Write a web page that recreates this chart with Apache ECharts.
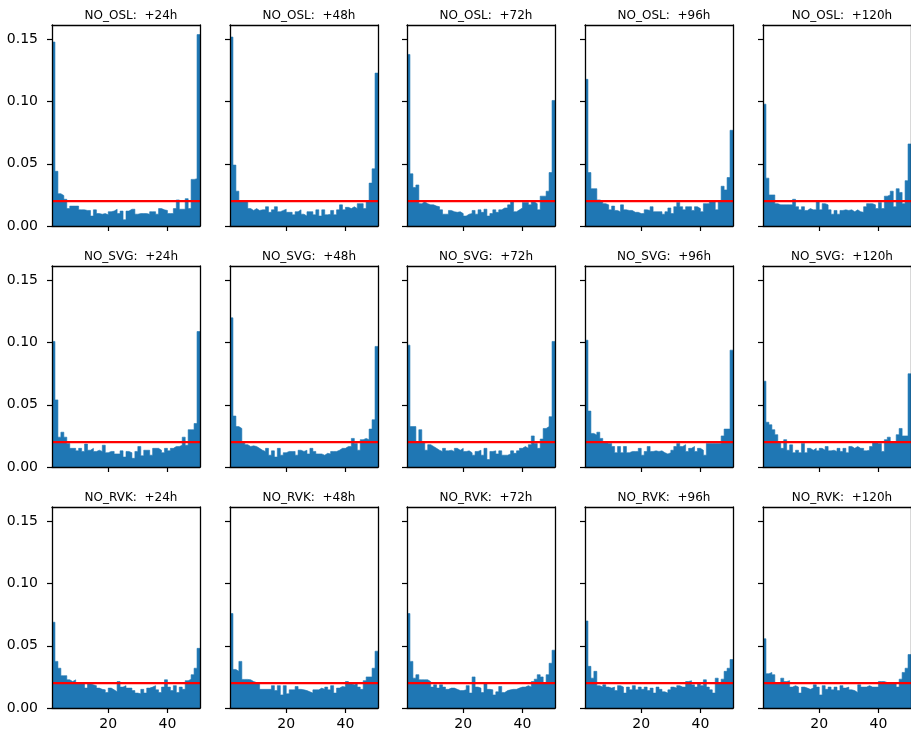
<!DOCTYPE html>
<html>
<head>
<meta charset="utf-8">
<script src="https://cdn.jsdelivr.net/npm/echarts@6/dist/echarts.min.js"></script>
<style>
  html, body { margin: 0; padding: 0; background: #fff; }
  #chart { width: 911px; height: 740px; }
</style>
</head>
<body>
<div id="chart"></div>
<script>
// rank histograms, 50 bins over ranks 1..51
const stations = ['NO_OSL', 'NO_SVG', 'NO_RVK']
const leadTimes = ['+24h', '+48h', '+72h', '+96h', '+120h']
const xTicks = [20, 40]
const yTicks = [0, 0.05, 0.10, 0.15]
const UNIFORM = 0.02

const osl24 = [0.148, 0.044, 0.026, 0.0245, 0.0215, 0.014, 0.016, 0.016, 0.016, 0.013,
  0.013, 0.0125, 0.0125, 0.008, 0.013, 0.010, 0.0095, 0.010, 0.009, 0.0115,
  0.012, 0.0135, 0.010, 0.012, 0.005, 0.012, 0.0135, 0.0135, 0.0095, 0.010,
  0.010, 0.010, 0.0095, 0.0115, 0.0115, 0.0095, 0.014, 0.013, 0.0125, 0.010,
  0.010, 0.014, 0.021, 0.0135, 0.0135, 0.022, 0.014, 0.0375, 0.038, 0.154]
const osl48 = [0.152, 0.049, 0.028, 0.020, 0.020, 0.0205, 0.014, 0.0125, 0.014, 0.0125,
  0.013, 0.013, 0.0155, 0.011, 0.013, 0.0155, 0.0115, 0.0125, 0.0135, 0.011,
  0.011, 0.009, 0.0115, 0.013, 0.0095, 0.008, 0.0115, 0.0115, 0.009, 0.013,
  0.008, 0.013, 0.009, 0.0095, 0.0125, 0.009, 0.013, 0.017, 0.013, 0.015,
  0.014, 0.0155, 0.014, 0.018, 0.018, 0.014, 0.0205, 0.0345, 0.046, 0.123]
const osl72 = [0.138, 0.042, 0.031, 0.033, 0.018, 0.0195, 0.018, 0.017, 0.017, 0.016,
  0.0155, 0.013, 0.0095, 0.0095, 0.0125, 0.0115, 0.011, 0.0115, 0.010, 0.008,
  0.0095, 0.010, 0.0125, 0.0095, 0.013, 0.011, 0.0135, 0.008, 0.010, 0.013,
  0.011, 0.013, 0.0145, 0.0145, 0.017, 0.020, 0.0115, 0.013, 0.0145, 0.019,
  0.019, 0.017, 0.0195, 0.018, 0.013, 0.024, 0.024, 0.028, 0.043, 0.101]
const osl96 = [0.118, 0.043, 0.030, 0.030, 0.021, 0.020, 0.018, 0.017, 0.013, 0.016,
  0.0125, 0.0115, 0.017, 0.013, 0.0125, 0.0125, 0.011, 0.011, 0.010, 0.010,
  0.013, 0.0125, 0.0155, 0.0115, 0.0115, 0.0115, 0.0095, 0.0115, 0.0145, 0.010,
  0.0155, 0.019, 0.0155, 0.013, 0.0155, 0.0155, 0.0125, 0.0155, 0.014, 0.0115,
  0.018, 0.018, 0.0205, 0.0205, 0.013, 0.0195, 0.032, 0.029, 0.039, 0.077]
const osl120 = [0.098, 0.0385, 0.025, 0.025, 0.018, 0.017, 0.017, 0.017, 0.017, 0.017,
  0.0215, 0.0155, 0.013, 0.0155, 0.0125, 0.014, 0.013, 0.013, 0.0195, 0.013,
  0.018, 0.017, 0.013, 0.0095, 0.0125, 0.0095, 0.0125, 0.013, 0.0125, 0.013,
  0.0115, 0.013, 0.0115, 0.011, 0.0155, 0.018, 0.018, 0.017, 0.014, 0.019,
  0.014, 0.024, 0.025, 0.028, 0.0155, 0.030, 0.027, 0.018, 0.0365, 0.066]

const svg24 = [0.101, 0.054, 0.024, 0.028, 0.024, 0.019, 0.015, 0.015, 0.013, 0.015,
  0.0125, 0.0185, 0.0135, 0.015, 0.0125, 0.0135, 0.0125, 0.0175, 0.0115, 0.0125,
  0.0125, 0.0105, 0.0105, 0.013, 0.008, 0.0125, 0.0115, 0.007, 0.0125, 0.0165,
  0.009, 0.0135, 0.0135, 0.0095, 0.015, 0.015, 0.0135, 0.0115, 0.015, 0.013,
  0.015, 0.0165, 0.0165, 0.0175, 0.024, 0.0175, 0.030, 0.030, 0.035, 0.109]
const svg48 = [0.120, 0.041, 0.0325, 0.031, 0.0205, 0.018, 0.0165, 0.017, 0.0165, 0.015,
  0.0135, 0.0125, 0.015, 0.0095, 0.013, 0.008, 0.015, 0.0095, 0.0115, 0.0125,
  0.0125, 0.0125, 0.0095, 0.0135, 0.0125, 0.0135, 0.0105, 0.015, 0.0125, 0.0105,
  0.0105, 0.0095, 0.011, 0.0105, 0.0125, 0.0125, 0.0135, 0.015, 0.015, 0.0165,
  0.0165, 0.023, 0.019, 0.0135, 0.022, 0.023, 0.022, 0.0305, 0.038, 0.097]
const svg72 = [0.098, 0.0325, 0.0325, 0.0205, 0.030, 0.0205, 0.0135, 0.018, 0.0165, 0.015,
  0.0135, 0.0125, 0.015, 0.013, 0.0135, 0.0125, 0.015, 0.0135, 0.015, 0.0125,
  0.013, 0.0115, 0.0095, 0.0125, 0.0135, 0.0095, 0.015, 0.006, 0.0125, 0.013,
  0.0105, 0.013, 0.0095, 0.0095, 0.0105, 0.013, 0.011, 0.013, 0.015, 0.0165,
  0.015, 0.018, 0.025, 0.019, 0.015, 0.0225, 0.031, 0.0325, 0.0405, 0.101]
const svg96 = [0.102, 0.045, 0.027, 0.0258, 0.028, 0.023, 0.0205, 0.019, 0.019, 0.0165,
  0.0115, 0.0165, 0.0115, 0.0165, 0.0115, 0.0125, 0.0125, 0.0125, 0.015, 0.0095,
  0.0125, 0.0165, 0.0125, 0.013, 0.0125, 0.013, 0.0115, 0.0105, 0.0115, 0.0135,
  0.0165, 0.019, 0.0165, 0.018, 0.0125, 0.015, 0.0165, 0.0125, 0.015, 0.0135,
  0.0095, 0.019, 0.019, 0.019, 0.019, 0.019, 0.025, 0.0305, 0.0305, 0.094]
const svg120 = [0.069, 0.036, 0.034, 0.030, 0.026, 0.0205, 0.015, 0.022, 0.0135, 0.0178,
  0.0115, 0.0135, 0.0115, 0.019, 0.0115, 0.015, 0.0135, 0.015, 0.013, 0.015,
  0.0135, 0.0165, 0.013, 0.0135, 0.0125, 0.015, 0.0125, 0.015, 0.0115, 0.0165,
  0.015, 0.0165, 0.015, 0.015, 0.013, 0.0135, 0.0165, 0.0205, 0.019, 0.019,
  0.0125, 0.022, 0.024, 0.0205, 0.0205, 0.026, 0.031, 0.025, 0.025, 0.075]

const rvk24 = [0.069, 0.0375, 0.032, 0.026, 0.026, 0.0227, 0.0213, 0.0227, 0.0205, 0.020,
  0.020, 0.016, 0.0195, 0.0187, 0.018, 0.016, 0.015, 0.0146, 0.0124, 0.016,
  0.0146, 0.013, 0.0213, 0.0168, 0.018, 0.016, 0.016, 0.014, 0.012, 0.0114,
  0.015, 0.012, 0.016, 0.0168, 0.018, 0.0146, 0.0124, 0.0168, 0.0227, 0.0168,
  0.014, 0.018, 0.0124, 0.0168, 0.015, 0.022, 0.0232, 0.0268, 0.032, 0.048]
const rvk48 = [0.076, 0.031, 0.0295, 0.0375, 0.023, 0.023, 0.0227, 0.0213, 0.0205, 0.020,
  0.015, 0.015, 0.015, 0.015, 0.018, 0.014, 0.018, 0.0105, 0.018, 0.0114,
  0.0146, 0.0146, 0.0173, 0.015, 0.0146, 0.014, 0.013, 0.012, 0.0146, 0.0146,
  0.016, 0.015, 0.0168, 0.0146, 0.018, 0.012, 0.016, 0.0173, 0.0168, 0.0213,
  0.0195, 0.0187, 0.020, 0.0168, 0.015, 0.022, 0.025, 0.025, 0.032, 0.0457]
const rvk72 = [0.076, 0.0375, 0.024, 0.0268, 0.0227, 0.0227, 0.0227, 0.0213, 0.0168, 0.0187,
  0.016, 0.0187, 0.0168, 0.015, 0.016, 0.016, 0.015, 0.014, 0.014, 0.0146,
  0.018, 0.012, 0.025, 0.0168, 0.016, 0.0124, 0.0195, 0.015, 0.0146, 0.0105,
  0.013, 0.0173, 0.0124, 0.014, 0.0146, 0.015, 0.015, 0.016, 0.0168, 0.0168,
  0.018, 0.0168, 0.0213, 0.0232, 0.0268, 0.025, 0.0195, 0.0268, 0.036, 0.0465]
const rvk96 = [0.070, 0.0335, 0.024, 0.0295, 0.018, 0.0168, 0.0187, 0.0168, 0.016, 0.0168,
  0.014, 0.018, 0.0168, 0.012, 0.0168, 0.0146, 0.018, 0.0146, 0.0168, 0.015,
  0.0168, 0.014, 0.016, 0.012, 0.0168, 0.015, 0.013, 0.012, 0.0146, 0.0168,
  0.016, 0.018, 0.0168, 0.0168, 0.0213, 0.022, 0.0187, 0.0168, 0.020, 0.018,
  0.0227, 0.0168, 0.0146, 0.012, 0.024, 0.020, 0.0232, 0.0295, 0.032, 0.039]
const rvk120 = [0.0557, 0.0276, 0.0286, 0.0268, 0.0205, 0.0205, 0.024, 0.0213, 0.022, 0.0168,
  0.018, 0.0168, 0.012, 0.0168, 0.016, 0.015, 0.016, 0.0187, 0.0168, 0.0105,
  0.018, 0.015, 0.0168, 0.0146, 0.0168, 0.014, 0.018, 0.016, 0.0168, 0.0146,
  0.014, 0.0124, 0.0187, 0.0168, 0.0168, 0.018, 0.0168, 0.0168, 0.0168, 0.0213,
  0.0213, 0.0205, 0.0205, 0.0205, 0.0205, 0.0168, 0.0232, 0.0286, 0.032, 0.043]

const panels = [
  [osl24, osl48, osl72, osl96, osl120],
  [svg24, svg48, svg72, svg96, svg120],
  [rvk24, rvk48, rvk72, rvk96, rvk120]
]

const RANK_MIN = 1
const RANK_MAX = 51
const Y_MAX = 0.1617

const colLeft = [52, 230, 407, 585, 763]
const rowTop = [25, 266, 507]
const plotW = 148
const plotH = 201

const FONT = 'DejaVu Sans'
const BAR_COLOR = '#1f77b4'

const chart = echarts.init(document.getElementById('chart'), null, { renderer: 'canvas' })

const grids = []
const xAxes = []
const yAxes = []
const series = []
const titles = []

panels.forEach((row, r) => {
  row.forEach((values, c) => {
    const idx = grids.length
    grids.push({ left: colLeft[c], top: rowTop[r], width: plotW, height: plotH })

    titles.push({
      text: stations[r] + ':  ' + leadTimes[c],
      left: colLeft[c] + plotW / 2,
      top: rowTop[r] - 20,
      textAlign: 'center',
      textStyle: { fontSize: 12, fontWeight: 'normal', color: '#000', fontFamily: FONT }
    })

    const spine = { show: true, onZero: false, lineStyle: { color: '#000', width: 1.3 } }

    // bottom + top x axes (top one only draws the frame)
    xAxes.push({
      type: 'value', gridIndex: idx, min: RANK_MIN, max: RANK_MAX, position: 'bottom', z: 5,
      axisLine: spine,
      axisTick: { show: true, length: 5, customValues: xTicks, lineStyle: { color: '#000', width: 1.2 } },
      axisLabel: { show: r === 2, customValues: xTicks, margin: 9, fontSize: 14, color: '#000', fontFamily: FONT },
      splitLine: { show: false }
    })
    xAxes.push({
      type: 'value', gridIndex: idx, min: RANK_MIN, max: RANK_MAX, position: 'top', z: 5,
      axisLine: spine, axisTick: { show: false }, axisLabel: { show: false }, splitLine: { show: false }
    })
    yAxes.push({
      type: 'value', gridIndex: idx, min: 0, max: Y_MAX, position: 'left', z: 5,
      axisLine: spine,
      axisTick: { show: true, length: 5, customValues: yTicks, lineStyle: { color: '#000', width: 1.2 } },
      axisLabel: {
        show: c === 0, customValues: yTicks, margin: 14, fontSize: 14, color: '#000', fontFamily: FONT,
        formatter: v => v.toFixed(2)
      },
      splitLine: { show: false }
    })
    yAxes.push({
      type: 'value', gridIndex: idx, min: 0, max: Y_MAX, position: 'right', z: 5,
      axisLine: spine, axisTick: { show: false }, axisLabel: { show: false }, splitLine: { show: false }
    })

    // histogram as a stepped filled outline: each bin starts at its rank
    const steps = values.map((v, i) => [RANK_MIN + i, v])
    steps.push([RANK_MAX, values[values.length - 1]])
    series.push({
      type: 'line', xAxisIndex: 2 * idx, yAxisIndex: 2 * idx,
      data: steps, step: 'end', symbol: 'none', silent: true, z: 2,
      lineStyle: { width: 0.6, color: BAR_COLOR },
      areaStyle: { color: BAR_COLOR, opacity: 1 }
    })
    series.push({
      type: 'line', xAxisIndex: 2 * idx, yAxisIndex: 2 * idx,
      data: [[RANK_MIN, UNIFORM], [RANK_MAX, UNIFORM]], symbol: 'none', silent: true, z: 4,
      lineStyle: { width: 2.2, color: '#ff0000' }
    })
  })
})

chart.setOption({
  animation: false,
  backgroundColor: '#fff',
  title: titles,
  grid: grids,
  xAxis: xAxes,
  yAxis: yAxes,
  series: series
})
</script>
</body>
</html>
